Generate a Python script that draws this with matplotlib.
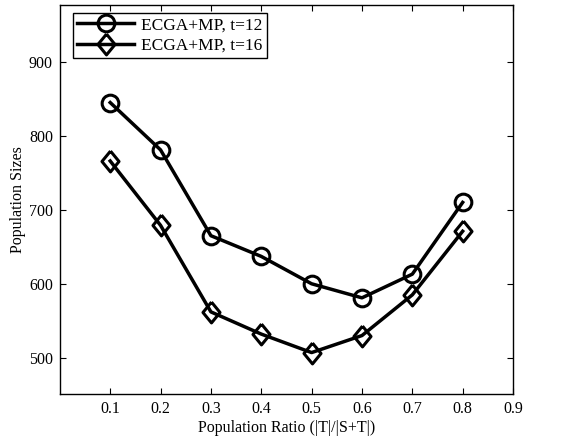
import matplotlib.pyplot as plt

plt.rcParams["font.family"] = ["Liberation Serif", "DejaVu Serif"]

# Data
ratio = [0.1, 0.2, 0.3, 0.4, 0.5, 0.6, 0.7, 0.8]
pop_t12 = [845, 781, 665, 637, 600, 581, 613, 710]
pop_t16 = [766, 679, 562, 532, 507, 530, 585, 671]

diamond = [(0, 1), (0.82, 0), (0, -1), (-0.82, 0), (0, 1)]

fig = plt.figure(figsize=(5.7, 4.46), dpi=100)
ax = fig.add_axes([0.105, 0.1166, 0.795, 0.8724])

ax.plot(ratio, pop_t12, color="black", linewidth=2.5, marker="o",
        markersize=12, markerfacecolor="none", markeredgewidth=2.2,
        label="ECGA+MP, t=12")
ax.plot(ratio, pop_t16, color="black", linewidth=2.5, marker=diamond,
        markersize=15, markerfacecolor="none", markeredgewidth=2.2,
        label="ECGA+MP, t=16")

ax.set_xlim(0, 0.9)
ax.set_ylim(451, 977)
ax.set_xticks([0.1, 0.2, 0.3, 0.4, 0.5, 0.6, 0.7, 0.8, 0.9])
ax.set_yticks([500, 600, 700, 800, 900])
ax.tick_params(direction="in", top=True, right=True, labelsize=11.5,
               length=4, pad=5)
for s in ax.spines.values():
    s.set_linewidth(1.0)

ax.set_xlabel("Population Ratio (|T|/|S+T|)", fontsize=11.5, labelpad=2)
ax.set_ylabel("Population Sizes", fontsize=11.5, labelpad=2)

leg = ax.legend(loc="upper left", bbox_to_anchor=(0.028, 0.979),
                borderaxespad=0, fontsize=12.5, handlelength=3.3,
                fancybox=False, framealpha=1, edgecolor="black",
                labelspacing=0.25, borderpad=0.25, handletextpad=0.4)
leg.get_frame().set_linewidth(1.0)

fig.savefig("out.png", dpi=100)
